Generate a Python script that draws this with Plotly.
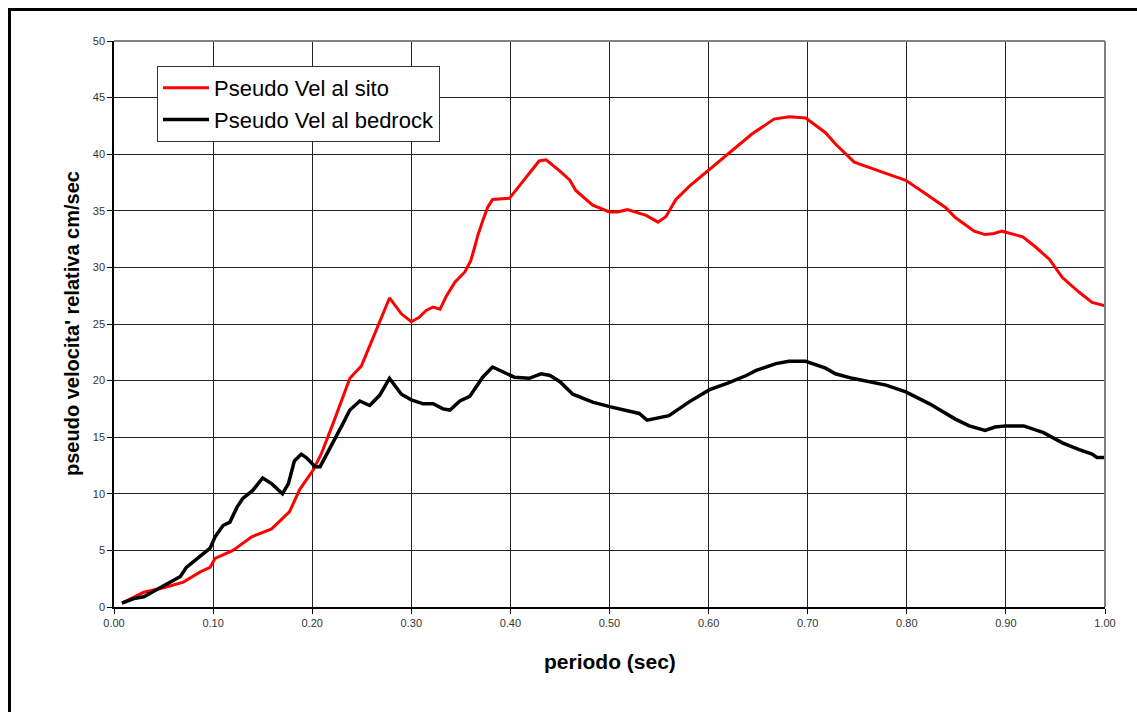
import plotly.graph_objects as go

sito_x = [0.008, 0.03, 0.05, 0.07, 0.087, 0.097, 0.102, 0.12, 0.139, 0.159, 0.177, 0.1875, 0.201, 0.209,
          0.221, 0.238, 0.2497, 0.26, 0.268, 0.278, 0.29, 0.30, 0.308, 0.315, 0.322, 0.329, 0.335, 0.344,
          0.354, 0.36, 0.364, 0.367, 0.372, 0.377, 0.382, 0.399, 0.409, 0.429, 0.436, 0.45, 0.46, 0.466,
          0.483, 0.5, 0.508, 0.518, 0.537, 0.549, 0.557, 0.567, 0.581, 0.599, 0.618, 0.644, 0.666, 0.681,
          0.698, 0.718, 0.728, 0.747, 0.776, 0.799, 0.819, 0.839, 0.849, 0.859, 0.868, 0.879, 0.888, 0.896,
          0.917, 0.93, 0.944, 0.957, 0.974, 0.987, 1.0]
sito_y = [0.35, 1.3, 1.7, 2.2, 3.1, 3.5, 4.3, 5.0, 6.2, 6.9, 8.4, 10.4, 12.1, 13.5,
          16.2, 20.2, 21.3, 23.5, 25.2, 27.3, 25.9, 25.2, 25.6, 26.2, 26.5, 26.3, 27.4, 28.7,
          29.6, 30.6, 31.8, 32.8, 34.1, 35.3, 36.0, 36.1, 37.2, 39.4, 39.5, 38.5, 37.7, 36.8,
          35.5, 34.9, 34.9, 35.1, 34.6, 34.0, 34.5, 36.0, 37.2, 38.5, 39.9, 41.8, 43.1, 43.3,
          43.2, 41.9, 40.9, 39.3, 38.4, 37.7, 36.5, 35.3, 34.4, 33.8, 33.2, 32.9, 33.0, 33.2,
          32.7, 31.8, 30.7, 29.1, 27.8, 26.9, 26.6]

bed_x = [0.008, 0.02, 0.03, 0.038, 0.056, 0.067, 0.073, 0.085, 0.097, 0.102, 0.11, 0.117, 0.124, 0.13,
         0.14, 0.15, 0.159, 0.17, 0.176, 0.182, 0.189, 0.194, 0.203, 0.208, 0.218, 0.231, 0.238, 0.248,
         0.258, 0.268, 0.278, 0.29, 0.30, 0.312, 0.322, 0.332, 0.339, 0.349, 0.359, 0.372, 0.382, 0.394,
         0.404, 0.419, 0.431, 0.44, 0.45, 0.463, 0.483, 0.5, 0.52, 0.53, 0.538, 0.56, 0.58, 0.601, 0.62,
         0.638, 0.648, 0.668, 0.681, 0.698, 0.718, 0.728, 0.745, 0.772, 0.779, 0.799, 0.823, 0.849, 0.863,
         0.879, 0.889, 0.9, 0.918, 0.938, 0.957, 0.974, 0.987, 0.992, 1.0]
bed_y = [0.35, 0.74, 0.9, 1.3, 2.2, 2.7, 3.5, 4.4, 5.2, 6.2, 7.2, 7.5, 8.8, 9.6,
         10.3, 11.4, 10.9, 10.0, 10.9, 12.9, 13.5, 13.2, 12.4, 12.4, 14.0, 16.2, 17.4, 18.2,
         17.8, 18.7, 20.2, 18.8, 18.3, 17.95, 17.95, 17.5, 17.4, 18.2, 18.6, 20.3, 21.2, 20.7,
         20.3, 20.2, 20.6, 20.45, 19.9, 18.8, 18.1, 17.7, 17.3, 17.1, 16.5, 16.9, 18.1, 19.2, 19.8,
         20.45, 20.9, 21.5, 21.7, 21.7, 21.1, 20.6, 20.2, 19.7, 19.6, 19.0, 17.95, 16.6, 16.0,
         15.6, 15.9, 16.0, 16.0, 15.4, 14.5, 13.9, 13.5, 13.2, 13.2]

x_ticks = [0.0, 0.1, 0.2, 0.3, 0.4, 0.5, 0.6, 0.7, 0.8, 0.9, 1.0]
y_ticks = [0, 5, 10, 15, 20, 25, 30, 35, 40, 45, 50]

W, H = 1137, 712
L, R, T, B = 114, 1105, 41, 607
pw, ph = R - L, B - T

fig = go.Figure()
fig.add_trace(go.Scatter(x=sito_x, y=sito_y, mode="lines", name="Pseudo Vel al sito",
                         line=dict(color="#ff0000", width=3)))
fig.add_trace(go.Scatter(x=bed_x, y=bed_y, mode="lines", name="Pseudo Vel al bedrock",
                         line=dict(color="#000000", width=3.5)))

def px_x(p):
    return (p - L) / pw

def px_y(p):
    return (B - p) / ph

fig.update_layout(
    width=W, height=H,
    margin=dict(l=L, r=W - R, t=T, b=H - B),
    paper_bgcolor="white", plot_bgcolor="white",
    font=dict(family="Liberation Sans, Arial, sans-serif", color="#000"),
    showlegend=True,
    legend=dict(x=px_x(157), y=px_y(66), xanchor="left", yanchor="top",
                bordercolor="#333", borderwidth=1, bgcolor="white",
                font=dict(size=22, color="#000"), itemwidth=46,
                tracegroupgap=0),
    xaxis=dict(range=[0, 1], tickvals=x_ticks, ticktext=[f"{v:.2f}" for v in x_ticks],
               showgrid=True, gridcolor="#222", gridwidth=1, zeroline=False,
               showline=True, linecolor="#000", linewidth=1.5, mirror=False,
               ticks="outside", ticklen=5, tickcolor="#000",
               tickfont=dict(size=11, color="#333")),
    yaxis=dict(range=[0, 50], tickvals=y_ticks,
               showgrid=True, gridcolor="#222", gridwidth=1, zeroline=False,
               showline=True, linecolor="#000", linewidth=1.5,
               ticks="outside", ticklen=5, tickcolor="#000",
               tickfont=dict(size=11, color="#333")),
    shapes=[
        dict(type="line", xref="paper", yref="paper", x0=px_x(R), x1=px_x(R), y0=0, y1=1,
             line=dict(color="#808080", width=2)),
        dict(type="line", xref="paper", yref="paper", x0=0, x1=px_x(R), y0=1, y1=1,
             line=dict(color="#808080", width=2)),
        dict(type="rect", xref="paper", yref="paper", x0=px_x(9.5), x1=px_x(1150),
             y0=px_y(730), y1=px_y(9.5), line=dict(color="#000", width=3), layer="below"),
    ],
    annotations=[
        dict(text="<b>periodo (sec)</b>", xref="paper", yref="paper", x=px_x(610), y=px_y(661),
             xanchor="center", yanchor="middle", showarrow=False, font=dict(size=21, color="#000")),
        dict(text="<b>pseudo velocita' relativa cm/sec</b>", xref="paper", yref="paper",
             x=px_x(72), y=px_y(324), xanchor="center", yanchor="middle", textangle=-90,
             showarrow=False, font=dict(size=20, color="#000")),
    ],
)

fig.write_html("out.html", config={"displayModeBar": False},
               post_script="document.body.style.margin='0';document.body.style.overflow='hidden';")
